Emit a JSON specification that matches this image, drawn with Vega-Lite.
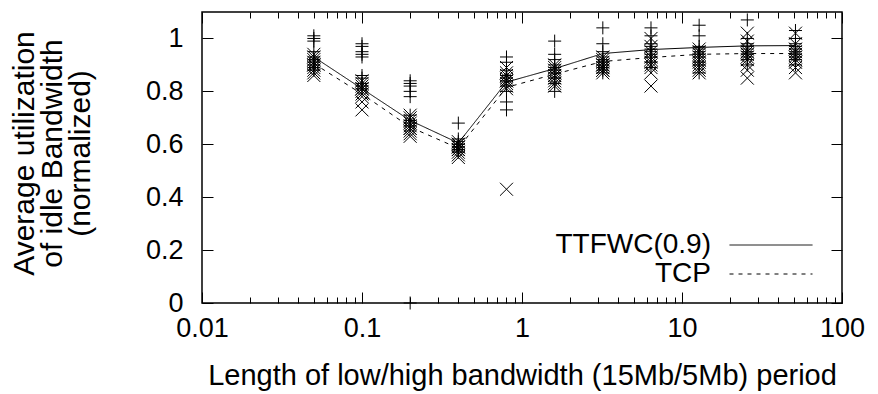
{
  "$schema": "https://vega.github.io/schema/vega-lite/v6.json",
  "width": 640,
  "height": 291,
  "autosize": "none",
  "padding": {"left": 202, "top": 12, "right": 36, "bottom": 91},
  "background": "white",
  "config": {
    "font": "Liberation Sans",
    "view": {"stroke": "black", "strokeWidth": 1.5},
    "axis": {
      "domain": false,
      "grid": false,
      "tickColor": "black",
      "tickWidth": 1,
      "labelFont": "Liberation Sans",
      "labelFontSize": 27,
      "labelColor": "black",
      "titleFont": "Liberation Sans",
      "titleFontWeight": "normal",
      "titleColor": "black"
    }
  },
  "datasets": {
    "runs": [
      {"period": 0.05, "series": "TTFWC(0.9)", "util": 1.01},
      {"period": 0.05, "series": "TTFWC(0.9)", "util": 1.0},
      {"period": 0.05, "series": "TTFWC(0.9)", "util": 0.99},
      {"period": 0.05, "series": "TTFWC(0.9)", "util": 0.95},
      {"period": 0.05, "series": "TTFWC(0.9)", "util": 0.93},
      {"period": 0.05, "series": "TTFWC(0.9)", "util": 0.92},
      {"period": 0.05, "series": "TTFWC(0.9)", "util": 0.91},
      {"period": 0.05, "series": "TTFWC(0.9)", "util": 0.9},
      {"period": 0.05, "series": "TTFWC(0.9)", "util": 0.89},
      {"period": 0.05, "series": "TTFWC(0.9)", "util": 0.88},
      {"period": 0.1, "series": "TTFWC(0.9)", "util": 0.98},
      {"period": 0.1, "series": "TTFWC(0.9)", "util": 0.97},
      {"period": 0.1, "series": "TTFWC(0.9)", "util": 0.95},
      {"period": 0.1, "series": "TTFWC(0.9)", "util": 0.94},
      {"period": 0.1, "series": "TTFWC(0.9)", "util": 0.93},
      {"period": 0.1, "series": "TTFWC(0.9)", "util": 0.86},
      {"period": 0.1, "series": "TTFWC(0.9)", "util": 0.85},
      {"period": 0.1, "series": "TTFWC(0.9)", "util": 0.83},
      {"period": 0.1, "series": "TTFWC(0.9)", "util": 0.82},
      {"period": 0.1, "series": "TTFWC(0.9)", "util": 0.81},
      {"period": 0.2, "series": "TTFWC(0.9)", "util": 0.84},
      {"period": 0.2, "series": "TTFWC(0.9)", "util": 0.83},
      {"period": 0.2, "series": "TTFWC(0.9)", "util": 0.82},
      {"period": 0.2, "series": "TTFWC(0.9)", "util": 0.8},
      {"period": 0.2, "series": "TTFWC(0.9)", "util": 0.78},
      {"period": 0.2, "series": "TTFWC(0.9)", "util": 0.71},
      {"period": 0.2, "series": "TTFWC(0.9)", "util": 0.69},
      {"period": 0.2, "series": "TTFWC(0.9)", "util": 0.68},
      {"period": 0.2, "series": "TTFWC(0.9)", "util": 0.67},
      {"period": 0.2, "series": "TTFWC(0.9)", "util": 0.0},
      {"period": 0.4, "series": "TTFWC(0.9)", "util": 0.68},
      {"period": 0.4, "series": "TTFWC(0.9)", "util": 0.62},
      {"period": 0.4, "series": "TTFWC(0.9)", "util": 0.61},
      {"period": 0.4, "series": "TTFWC(0.9)", "util": 0.6},
      {"period": 0.4, "series": "TTFWC(0.9)", "util": 0.6},
      {"period": 0.4, "series": "TTFWC(0.9)", "util": 0.59},
      {"period": 0.4, "series": "TTFWC(0.9)", "util": 0.59},
      {"period": 0.4, "series": "TTFWC(0.9)", "util": 0.58},
      {"period": 0.4, "series": "TTFWC(0.9)", "util": 0.58},
      {"period": 0.4, "series": "TTFWC(0.9)", "util": 0.57},
      {"period": 0.8, "series": "TTFWC(0.9)", "util": 0.93},
      {"period": 0.8, "series": "TTFWC(0.9)", "util": 0.91},
      {"period": 0.8, "series": "TTFWC(0.9)", "util": 0.88},
      {"period": 0.8, "series": "TTFWC(0.9)", "util": 0.86},
      {"period": 0.8, "series": "TTFWC(0.9)", "util": 0.85},
      {"period": 0.8, "series": "TTFWC(0.9)", "util": 0.84},
      {"period": 0.8, "series": "TTFWC(0.9)", "util": 0.82},
      {"period": 0.8, "series": "TTFWC(0.9)", "util": 0.8},
      {"period": 0.8, "series": "TTFWC(0.9)", "util": 0.76},
      {"period": 0.8, "series": "TTFWC(0.9)", "util": 0.73},
      {"period": 1.6, "series": "TTFWC(0.9)", "util": 0.99},
      {"period": 1.6, "series": "TTFWC(0.9)", "util": 0.94},
      {"period": 1.6, "series": "TTFWC(0.9)", "util": 0.92},
      {"period": 1.6, "series": "TTFWC(0.9)", "util": 0.9},
      {"period": 1.6, "series": "TTFWC(0.9)", "util": 0.89},
      {"period": 1.6, "series": "TTFWC(0.9)", "util": 0.88},
      {"period": 1.6, "series": "TTFWC(0.9)", "util": 0.87},
      {"period": 1.6, "series": "TTFWC(0.9)", "util": 0.85},
      {"period": 1.6, "series": "TTFWC(0.9)", "util": 0.83},
      {"period": 1.6, "series": "TTFWC(0.9)", "util": 0.8},
      {"period": 3.2, "series": "TTFWC(0.9)", "util": 1.04},
      {"period": 3.2, "series": "TTFWC(0.9)", "util": 0.98},
      {"period": 3.2, "series": "TTFWC(0.9)", "util": 0.95},
      {"period": 3.2, "series": "TTFWC(0.9)", "util": 0.93},
      {"period": 3.2, "series": "TTFWC(0.9)", "util": 0.92},
      {"period": 3.2, "series": "TTFWC(0.9)", "util": 0.91},
      {"period": 3.2, "series": "TTFWC(0.9)", "util": 0.9},
      {"period": 3.2, "series": "TTFWC(0.9)", "util": 0.89},
      {"period": 3.2, "series": "TTFWC(0.9)", "util": 0.88},
      {"period": 3.2, "series": "TTFWC(0.9)", "util": 0.87},
      {"period": 6.4, "series": "TTFWC(0.9)", "util": 1.04},
      {"period": 6.4, "series": "TTFWC(0.9)", "util": 1.01},
      {"period": 6.4, "series": "TTFWC(0.9)", "util": 0.98},
      {"period": 6.4, "series": "TTFWC(0.9)", "util": 0.97},
      {"period": 6.4, "series": "TTFWC(0.9)", "util": 0.96},
      {"period": 6.4, "series": "TTFWC(0.9)", "util": 0.95},
      {"period": 6.4, "series": "TTFWC(0.9)", "util": 0.94},
      {"period": 6.4, "series": "TTFWC(0.9)", "util": 0.93},
      {"period": 6.4, "series": "TTFWC(0.9)", "util": 0.91},
      {"period": 6.4, "series": "TTFWC(0.9)", "util": 0.89},
      {"period": 12.8, "series": "TTFWC(0.9)", "util": 1.05},
      {"period": 12.8, "series": "TTFWC(0.9)", "util": 1.01},
      {"period": 12.8, "series": "TTFWC(0.9)", "util": 0.97},
      {"period": 12.8, "series": "TTFWC(0.9)", "util": 0.96},
      {"period": 12.8, "series": "TTFWC(0.9)", "util": 0.95},
      {"period": 12.8, "series": "TTFWC(0.9)", "util": 0.94},
      {"period": 12.8, "series": "TTFWC(0.9)", "util": 0.93},
      {"period": 12.8, "series": "TTFWC(0.9)", "util": 0.91},
      {"period": 12.8, "series": "TTFWC(0.9)", "util": 0.9},
      {"period": 12.8, "series": "TTFWC(0.9)", "util": 0.87},
      {"period": 25.6, "series": "TTFWC(0.9)", "util": 1.07},
      {"period": 25.6, "series": "TTFWC(0.9)", "util": 1.0},
      {"period": 25.6, "series": "TTFWC(0.9)", "util": 0.98},
      {"period": 25.6, "series": "TTFWC(0.9)", "util": 0.97},
      {"period": 25.6, "series": "TTFWC(0.9)", "util": 0.96},
      {"period": 25.6, "series": "TTFWC(0.9)", "util": 0.95},
      {"period": 25.6, "series": "TTFWC(0.9)", "util": 0.94},
      {"period": 25.6, "series": "TTFWC(0.9)", "util": 0.93},
      {"period": 25.6, "series": "TTFWC(0.9)", "util": 0.92},
      {"period": 25.6, "series": "TTFWC(0.9)", "util": 0.9},
      {"period": 51.2, "series": "TTFWC(0.9)", "util": 1.03},
      {"period": 51.2, "series": "TTFWC(0.9)", "util": 1.0},
      {"period": 51.2, "series": "TTFWC(0.9)", "util": 0.98},
      {"period": 51.2, "series": "TTFWC(0.9)", "util": 0.97},
      {"period": 51.2, "series": "TTFWC(0.9)", "util": 0.96},
      {"period": 51.2, "series": "TTFWC(0.9)", "util": 0.95},
      {"period": 51.2, "series": "TTFWC(0.9)", "util": 0.94},
      {"period": 51.2, "series": "TTFWC(0.9)", "util": 0.93},
      {"period": 51.2, "series": "TTFWC(0.9)", "util": 0.92},
      {"period": 51.2, "series": "TTFWC(0.9)", "util": 0.9},
      {"period": 0.05, "series": "TCP", "util": 0.94},
      {"period": 0.05, "series": "TCP", "util": 0.93},
      {"period": 0.05, "series": "TCP", "util": 0.92},
      {"period": 0.05, "series": "TCP", "util": 0.91},
      {"period": 0.05, "series": "TCP", "util": 0.9},
      {"period": 0.05, "series": "TCP", "util": 0.9},
      {"period": 0.05, "series": "TCP", "util": 0.89},
      {"period": 0.05, "series": "TCP", "util": 0.88},
      {"period": 0.05, "series": "TCP", "util": 0.87},
      {"period": 0.05, "series": "TCP", "util": 0.86},
      {"period": 0.1, "series": "TCP", "util": 0.84},
      {"period": 0.1, "series": "TCP", "util": 0.83},
      {"period": 0.1, "series": "TCP", "util": 0.82},
      {"period": 0.1, "series": "TCP", "util": 0.81},
      {"period": 0.1, "series": "TCP", "util": 0.81},
      {"period": 0.1, "series": "TCP", "util": 0.8},
      {"period": 0.1, "series": "TCP", "util": 0.79},
      {"period": 0.1, "series": "TCP", "util": 0.78},
      {"period": 0.1, "series": "TCP", "util": 0.76},
      {"period": 0.1, "series": "TCP", "util": 0.73},
      {"period": 0.2, "series": "TCP", "util": 0.71},
      {"period": 0.2, "series": "TCP", "util": 0.7},
      {"period": 0.2, "series": "TCP", "util": 0.69},
      {"period": 0.2, "series": "TCP", "util": 0.68},
      {"period": 0.2, "series": "TCP", "util": 0.67},
      {"period": 0.2, "series": "TCP", "util": 0.66},
      {"period": 0.2, "series": "TCP", "util": 0.66},
      {"period": 0.2, "series": "TCP", "util": 0.65},
      {"period": 0.2, "series": "TCP", "util": 0.64},
      {"period": 0.2, "series": "TCP", "util": 0.63},
      {"period": 0.4, "series": "TCP", "util": 0.61},
      {"period": 0.4, "series": "TCP", "util": 0.6},
      {"period": 0.4, "series": "TCP", "util": 0.6},
      {"period": 0.4, "series": "TCP", "util": 0.59},
      {"period": 0.4, "series": "TCP", "util": 0.59},
      {"period": 0.4, "series": "TCP", "util": 0.58},
      {"period": 0.4, "series": "TCP", "util": 0.58},
      {"period": 0.4, "series": "TCP", "util": 0.57},
      {"period": 0.4, "series": "TCP", "util": 0.56},
      {"period": 0.4, "series": "TCP", "util": 0.55},
      {"period": 0.8, "series": "TCP", "util": 0.89},
      {"period": 0.8, "series": "TCP", "util": 0.87},
      {"period": 0.8, "series": "TCP", "util": 0.86},
      {"period": 0.8, "series": "TCP", "util": 0.85},
      {"period": 0.8, "series": "TCP", "util": 0.84},
      {"period": 0.8, "series": "TCP", "util": 0.84},
      {"period": 0.8, "series": "TCP", "util": 0.83},
      {"period": 0.8, "series": "TCP", "util": 0.82},
      {"period": 0.8, "series": "TCP", "util": 0.81},
      {"period": 0.8, "series": "TCP", "util": 0.43},
      {"period": 1.6, "series": "TCP", "util": 0.9},
      {"period": 1.6, "series": "TCP", "util": 0.89},
      {"period": 1.6, "series": "TCP", "util": 0.88},
      {"period": 1.6, "series": "TCP", "util": 0.87},
      {"period": 1.6, "series": "TCP", "util": 0.86},
      {"period": 1.6, "series": "TCP", "util": 0.86},
      {"period": 1.6, "series": "TCP", "util": 0.85},
      {"period": 1.6, "series": "TCP", "util": 0.84},
      {"period": 1.6, "series": "TCP", "util": 0.83},
      {"period": 1.6, "series": "TCP", "util": 0.82},
      {"period": 3.2, "series": "TCP", "util": 0.93},
      {"period": 3.2, "series": "TCP", "util": 0.92},
      {"period": 3.2, "series": "TCP", "util": 0.91},
      {"period": 3.2, "series": "TCP", "util": 0.9},
      {"period": 3.2, "series": "TCP", "util": 0.9},
      {"period": 3.2, "series": "TCP", "util": 0.89},
      {"period": 3.2, "series": "TCP", "util": 0.89},
      {"period": 3.2, "series": "TCP", "util": 0.88},
      {"period": 3.2, "series": "TCP", "util": 0.88},
      {"period": 3.2, "series": "TCP", "util": 0.87},
      {"period": 6.4, "series": "TCP", "util": 1.0},
      {"period": 6.4, "series": "TCP", "util": 0.97},
      {"period": 6.4, "series": "TCP", "util": 0.95},
      {"period": 6.4, "series": "TCP", "util": 0.93},
      {"period": 6.4, "series": "TCP", "util": 0.92},
      {"period": 6.4, "series": "TCP", "util": 0.91},
      {"period": 6.4, "series": "TCP", "util": 0.9},
      {"period": 6.4, "series": "TCP", "util": 0.89},
      {"period": 6.4, "series": "TCP", "util": 0.87},
      {"period": 6.4, "series": "TCP", "util": 0.82},
      {"period": 12.8, "series": "TCP", "util": 0.96},
      {"period": 12.8, "series": "TCP", "util": 0.95},
      {"period": 12.8, "series": "TCP", "util": 0.94},
      {"period": 12.8, "series": "TCP", "util": 0.93},
      {"period": 12.8, "series": "TCP", "util": 0.92},
      {"period": 12.8, "series": "TCP", "util": 0.91},
      {"period": 12.8, "series": "TCP", "util": 0.9},
      {"period": 12.8, "series": "TCP", "util": 0.89},
      {"period": 12.8, "series": "TCP", "util": 0.88},
      {"period": 12.8, "series": "TCP", "util": 0.87},
      {"period": 25.6, "series": "TCP", "util": 1.02},
      {"period": 25.6, "series": "TCP", "util": 0.99},
      {"period": 25.6, "series": "TCP", "util": 0.96},
      {"period": 25.6, "series": "TCP", "util": 0.95},
      {"period": 25.6, "series": "TCP", "util": 0.94},
      {"period": 25.6, "series": "TCP", "util": 0.93},
      {"period": 25.6, "series": "TCP", "util": 0.92},
      {"period": 25.6, "series": "TCP", "util": 0.9},
      {"period": 25.6, "series": "TCP", "util": 0.88},
      {"period": 25.6, "series": "TCP", "util": 0.85},
      {"period": 51.2, "series": "TCP", "util": 1.02},
      {"period": 51.2, "series": "TCP", "util": 0.98},
      {"period": 51.2, "series": "TCP", "util": 0.96},
      {"period": 51.2, "series": "TCP", "util": 0.95},
      {"period": 51.2, "series": "TCP", "util": 0.94},
      {"period": 51.2, "series": "TCP", "util": 0.93},
      {"period": 51.2, "series": "TCP", "util": 0.92},
      {"period": 51.2, "series": "TCP", "util": 0.91},
      {"period": 51.2, "series": "TCP", "util": 0.89},
      {"period": 51.2, "series": "TCP", "util": 0.87}
    ],
    "avg": [
      {"period": 0.05, "series": "TTFWC(0.9)", "util": 0.93},
      {"period": 0.1, "series": "TTFWC(0.9)", "util": 0.81},
      {"period": 0.2, "series": "TTFWC(0.9)", "util": 0.69},
      {"period": 0.4, "series": "TTFWC(0.9)", "util": 0.605},
      {"period": 0.8, "series": "TTFWC(0.9)", "util": 0.835},
      {"period": 1.6, "series": "TTFWC(0.9)", "util": 0.886},
      {"period": 3.2, "series": "TTFWC(0.9)", "util": 0.943},
      {"period": 6.4, "series": "TTFWC(0.9)", "util": 0.958},
      {"period": 12.8, "series": "TTFWC(0.9)", "util": 0.966},
      {"period": 25.6, "series": "TTFWC(0.9)", "util": 0.972},
      {"period": 51.2, "series": "TTFWC(0.9)", "util": 0.973},
      {"period": 0.05, "series": "TCP", "util": 0.905},
      {"period": 0.1, "series": "TCP", "util": 0.79},
      {"period": 0.2, "series": "TCP", "util": 0.665},
      {"period": 0.4, "series": "TCP", "util": 0.585},
      {"period": 0.8, "series": "TCP", "util": 0.815},
      {"period": 1.6, "series": "TCP", "util": 0.865},
      {"period": 3.2, "series": "TCP", "util": 0.913},
      {"period": 6.4, "series": "TCP", "util": 0.928},
      {"period": 12.8, "series": "TCP", "util": 0.94},
      {"period": 25.6, "series": "TCP", "util": 0.943},
      {"period": 51.2, "series": "TCP", "util": 0.943}
    ]
  },
  "layer": [
    {
      "data": {"name": "runs"},
      "transform": [{"filter": "datum.series === 'TTFWC(0.9)'"}],
      "mark": {"type": "point", "shape": "M-1,0H1M0,-1V1", "filled": false, "stroke": "black", "strokeWidth": 1, "opacity": 1, "size": 169},
      "encoding": {
        "x": {
          "field": "period", "type": "quantitative",
          "scale": {"type": "log", "domain": [0.01, 100], "nice": false},
          "axis": {
            "orient": "bottom",
            "values": [0.01, 0.02, 0.03, 0.04, 0.05, 0.06, 0.07, 0.08, 0.09, 0.1, 0.2, 0.3, 0.4, 0.5, 0.6, 0.7, 0.8, 0.9, 1, 2, 3, 4, 5, 6, 7, 8, 9, 10, 20, 30, 40, 50, 60, 70, 80, 90, 100],
            "format": "~g",
            "labelExpr": "indexof([0.01, 0.1, 1, 10, 100], datum.value) >= 0 ? datum.label : ''",
            "tickSize": {"condition": {"test": "indexof([0.01, 0.1, 1, 10, 100], datum.value) >= 0", "value": -11}, "value": -6},
            "labelPadding": 23,
            "labelFlush": false,
            "labelOverlap": false,
            "title": "Length of low/high bandwidth (15Mb/5Mb) period",
            "titleFontSize": 29,
            "titleBaseline": "middle",
            "titleY": 72
          }
        },
        "y": {
          "field": "util", "type": "quantitative",
          "scale": {"domain": [0, 1.1], "nice": false, "zero": false},
          "axis": {
            "orient": "left",
            "values": [0, 0.2, 0.4, 0.6, 0.8, 1],
            "format": "~g",
            "tickSize": -11,
            "labelPadding": 30,
            "labelFlush": false,
            "labelOverlap": false,
            "title": ["Average utilization", "of idle Bandwidth", "(normalized)"],
            "titleFontSize": 30,
            "titleLineHeight": 28,
            "titleAngle": -90,
            "titleAlign": "center",
            "titleBaseline": "middle",
            "titleX": -178,
            "titleY": 141
          }
        }
      }
    },
    {
      "data": {"name": "runs"},
      "transform": [{"filter": "datum.series === 'TCP'"}],
      "mark": {"type": "point", "shape": "M-1,-1L1,1M-1,1L1,-1", "filled": false, "stroke": "black", "strokeWidth": 1, "opacity": 1, "size": 169},
      "encoding": {
        "x": {
          "field": "period", "type": "quantitative",
          "axis": {
            "orient": "top",
            "values": [0.01, 0.02, 0.03, 0.04, 0.05, 0.06, 0.07, 0.08, 0.09, 0.1, 0.2, 0.3, 0.4, 0.5, 0.6, 0.7, 0.8, 0.9, 1, 2, 3, 4, 5, 6, 7, 8, 9, 10, 20, 30, 40, 50, 60, 70, 80, 90, 100],
            "labels": false,
            "tickSize": {"condition": {"test": "indexof([0.01, 0.1, 1, 10, 100], datum.value) >= 0", "value": -11}, "value": -6},
            "title": null
          }
        },
        "y": {
          "field": "util", "type": "quantitative",
          "axis": {
            "orient": "right",
            "values": [0, 0.2, 0.4, 0.6, 0.8, 1],
            "labels": false,
            "tickSize": -11,
            "title": null
          }
        }
      }
    },
    {
      "data": {"name": "avg"},
      "transform": [{"filter": "datum.series === 'TTFWC(0.9)'"}],
      "mark": {"type": "line", "color": "black", "strokeWidth": 1},
      "encoding": {
        "x": {"field": "period", "type": "quantitative", "axis": null},
        "y": {"field": "util", "type": "quantitative", "axis": null},
        "strokeDash": {
          "field": "series", "type": "nominal",
          "scale": {"domain": ["TTFWC(0.9)"], "range": [[1, 0]]},
          "legend": {
            "orient": "none", "legendX": 527, "legendY": 191,
            "title": null, "padding": 0,
            "symbolType": "stroke", "symbolSize": 6889,
            "symbolStrokeColor": "black", "symbolStrokeWidth": 1,
            "labelAlign": "right", "labelOffset": -102, "labelLimit": 400,
            "labelFont": "Liberation Sans", "labelFontSize": 28, "labelColor": "black"
          }
        }
      }
    },
    {
      "data": {"name": "avg"},
      "transform": [{"filter": "datum.series === 'TCP'"}],
      "mark": {"type": "line", "color": "black", "strokeWidth": 1},
      "encoding": {
        "x": {"field": "period", "type": "quantitative", "axis": null},
        "y": {"field": "util", "type": "quantitative", "axis": null},
        "strokeDash": {
          "field": "series", "type": "nominal",
          "scale": {"domain": ["TCP"], "range": [[4, 5]]},
          "legend": {
            "orient": "none", "legendX": 527, "legendY": 220,
            "title": null, "padding": 0,
            "symbolType": "stroke", "symbolSize": 6889,
            "symbolStrokeColor": "black", "symbolStrokeWidth": 1,
            "labelAlign": "right", "labelOffset": -102, "labelLimit": 400,
            "labelFont": "Liberation Sans", "labelFontSize": 28, "labelColor": "black"
          }
        }
      }
    }
  ],
  "resolve": {
    "axis": {"x": "independent", "y": "independent"},
    "scale": {"strokeDash": "independent"},
    "legend": {"strokeDash": "independent"}
  }
}
